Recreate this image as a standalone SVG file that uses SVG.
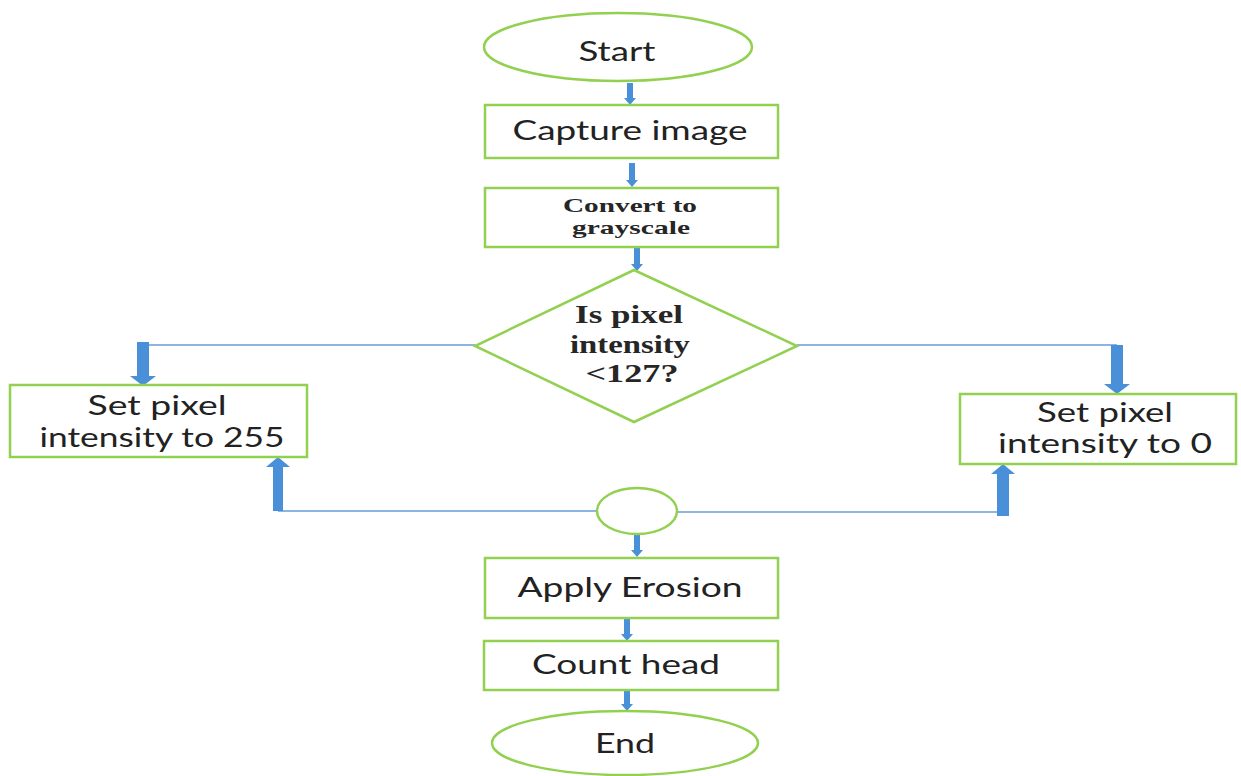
<svg xmlns="http://www.w3.org/2000/svg" width="1241" height="776" viewBox="0 0 1241 776">
<style>
.shape{fill:#ffffff;stroke:#92D050;stroke-width:2.5}
.arr{fill:#4A90D9;stroke:none}
.ln{stroke:#8DB4E2;stroke-width:2;fill:none}
.sans{font-family:Lato,"Open Sans","Liberation Sans",sans-serif;fill:#222222;text-anchor:middle}
.serif{font-family:"Liberation Serif","DejaVu Serif",serif;font-weight:bold;fill:#262626;text-anchor:middle}
</style>
<rect width="1241" height="776" fill="#ffffff"/>
<g id="connectors">
<line class="ln" x1="143" y1="345" x2="475" y2="345"/>
<line class="ln" x1="797" y1="345" x2="1117" y2="345"/>
<line class="ln" x1="278" y1="511" x2="597" y2="511"/>
<line class="ln" x1="677" y1="512" x2="1003" y2="512"/>
<polygon class="arr" points="627,83 633,83 633,98 636,98 630,105 624,98 627,98"/>
<polygon class="arr" points="629,163 635,163 635,180 638,180 632,187 626,180 629,180"/>
<polygon class="arr" points="634,248 640,248 640,264 643,264 637,271 631,264 634,264"/>
<polygon class="arr" points="137,342 149,342 149,376 156,376 143,386 130,376 137,376"/>
<polygon class="arr" points="1111,345 1123,345 1123,384 1130,384 1117,394 1104,384 1111,384"/>
<polygon class="arr" points="273,511 283,511 283,467 290,467 278,457 266,467 273,467"/>
<polygon class="arr" points="997,516 1009,516 1009,474 1015,474 1003,464 991,474 997,474"/>
<polygon class="arr" points="634,533 640,533 640,550 643,550 637,557 631,550 634,550"/>
<polygon class="arr" points="624,618 630,618 630,634 633,634 627,641 621,634 624,634"/>
<polygon class="arr" points="624,690 630,690 630,704 633,704 627,711 621,704 624,704"/>
</g>
<g id="start">
<ellipse class="shape" cx="618" cy="47" rx="134" ry="34"/>
<text class="sans" x="617" y="61" font-size="27" textLength="77" lengthAdjust="spacingAndGlyphs">Start</text>
</g>
<g id="capture">
<rect class="shape" x="485" y="105" width="293" height="53"/>
<text class="sans" x="630" y="140" font-size="26" textLength="235" lengthAdjust="spacingAndGlyphs">Capture image</text>
</g>
<g id="grayscale">
<rect class="shape" x="485" y="188" width="293" height="59"/>
<text class="serif" x="630" y="212" font-size="19" textLength="134" lengthAdjust="spacingAndGlyphs">Convert to</text>
<text class="serif" x="631" y="234" font-size="19" textLength="118" lengthAdjust="spacingAndGlyphs">grayscale</text>
</g>
<g id="decision">
<polygon class="shape" points="634,270 797,346 634,422 475,346"/>
<text class="serif" x="629" y="323" font-size="25" textLength="108" lengthAdjust="spacingAndGlyphs">Is pixel</text>
<text class="serif" x="630" y="353" font-size="25" textLength="120" lengthAdjust="spacingAndGlyphs">intensity</text>
<text class="serif" x="632" y="382" font-size="25" textLength="93" lengthAdjust="spacingAndGlyphs">&lt;127?</text>
</g>
<g id="set255">
<rect class="shape" x="10" y="385" width="297" height="72"/>
<text class="sans" x="157" y="415" font-size="27" textLength="139" lengthAdjust="spacingAndGlyphs">Set pixel</text>
<text class="sans" x="162" y="447" font-size="27" textLength="245" lengthAdjust="spacingAndGlyphs">intensity to 255</text>
</g>
<g id="set0">
<rect class="shape" x="960" y="394" width="276" height="70"/>
<text class="sans" x="1105" y="422" font-size="27" textLength="136" lengthAdjust="spacingAndGlyphs">Set pixel</text>
<text class="sans" x="1105" y="453" font-size="27" textLength="214" lengthAdjust="spacingAndGlyphs">intensity to 0</text>
</g>
<g id="merge">
<ellipse class="shape" cx="637" cy="511" rx="40" ry="23"/>
</g>
<g id="erosion">
<rect class="shape" x="485" y="558" width="293" height="60"/>
<text class="sans" x="630" y="597" font-size="26" textLength="225" lengthAdjust="spacingAndGlyphs">Apply Erosion</text>
</g>
<g id="count">
<rect class="shape" x="484" y="641" width="294" height="49"/>
<text class="sans" x="626" y="674" font-size="26" textLength="188" lengthAdjust="spacingAndGlyphs">Count head</text>
</g>
<g id="end">
<ellipse class="shape" cx="625" cy="743" rx="133" ry="32"/>
<text class="sans" x="625" y="753" font-size="26" textLength="60" lengthAdjust="spacingAndGlyphs">End</text>
</g>
</svg>
